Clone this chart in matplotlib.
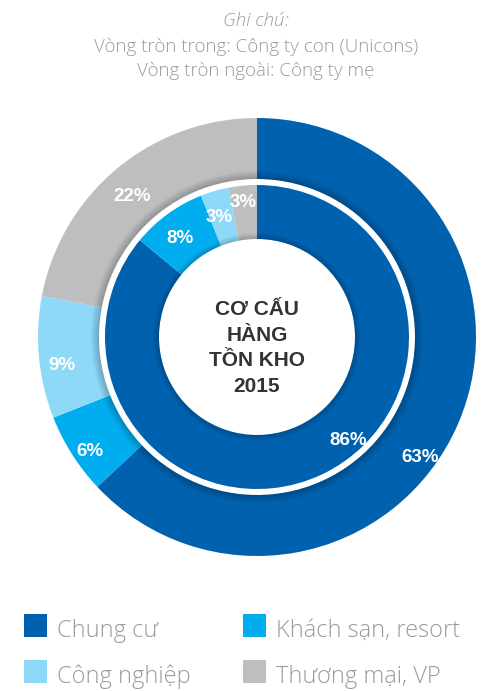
import numpy as np
import matplotlib.pyplot as plt
from matplotlib.patches import Rectangle, Wedge

categories = ["Chung cư", "Khách sạn, resort", "Công nghiệp", "Thương mại, VP"]
outer_pct = [63, 6, 9, 22]   # Công ty mẹ
inner_pct = [86, 8, 3, 3]    # Công ty con (Unicons)
colors = ["#0061ae", "#00aeef", "#8ed8f8", "#bcbec0"]

W, H = 497, 691
fig = plt.figure(figsize=(W / 100, H / 100), dpi=100)
ax = fig.add_axes([0, 0, 1, 1])

cx, cy = 257, H - 337
r_out, w_out = 219, 61
r_in, w_in = 152, 54

outer, _ = ax.pie(outer_pct, colors=colors, radius=r_out, center=(cx, cy),
                  startangle=90, counterclock=False,
                  wedgeprops=dict(width=w_out, linewidth=0))
inner, _ = ax.pie(inner_pct, colors=colors, radius=r_in, center=(cx, cy),
                  startangle=90, counterclock=False,
                  wedgeprops=dict(width=w_in, linewidth=0))

# soft shadows along the white gap and the inner hole
for i in range(8):
    a = 0.22 * (1 - i / 8)
    ax.add_patch(Wedge((cx, cy), r_out - w_out + i + 1, 0, 360, width=1,
                       color="black", alpha=a, linewidth=0))
for i in range(6):
    a = 0.18 * (1 - i / 6)
    ax.add_patch(Wedge((cx, cy), r_in - w_in + i + 1, 0, 360, width=1,
                       color="black", alpha=a, linewidth=0))


def put_labels(wedges, values, shifts, radii):
    for w, v, s, r in zip(wedges, values, shifts, radii):
        ang = np.deg2rad((w.theta1 + w.theta2) / 2 + s)
        ax.text(cx + r * np.cos(ang), cy + r * np.sin(ang), f"{v}%",
                ha="center", va="center", color="white", fontsize=13.5,
                fontweight="bold", family="Liberation Sans")


put_labels(outer, outer_pct, [-13, 2, 3, 2], [203, 203, 197, 188])
put_labels(inner, inner_pct, [16, 2, 1.5, 0.6], [138, 125, 125, 135])

ax.text(cx, H - 348, "CƠ CẤU\nHÀNG\nTỒN KHO\n2015", ha="center", va="center",
        fontsize=15, fontweight="bold", color="#333333",
        family="Liberation Sans", linespacing=1.45)

# note above the chart
grey = "#9b9b9b"
note = ["Ghi chú:", "Vòng tròn trong: Công ty con (Unicons)",
        "Vòng tròn ngoài: Công ty mẹ"]
for txt, base, st in zip(note, [26, 52, 76], ["italic", "normal", "normal"]):
    ax.text(256, H - base, txt, ha="center", va="baseline", fontsize=13.5,
            style=st, color=grey, family="Open Sans", fontweight="light")

# legend
slots = [(24, 614), (243, 614), (24, 660), (243, 660)]
for (x, y), name, col in zip(slots, categories, colors):
    ax.add_patch(Rectangle((x, H - y - 23), 23, 23, color=col, linewidth=0))
    ax.text(x + 33, H - y - 23, name, ha="left", va="baseline", fontsize=17,
            color=grey, family="Open Sans", fontweight="light")

ax.set_xlim(0, W)
ax.set_ylim(0, H)
ax.set_aspect("equal")
ax.axis("off")
fig.savefig("out.png", dpi=100, facecolor="white")
